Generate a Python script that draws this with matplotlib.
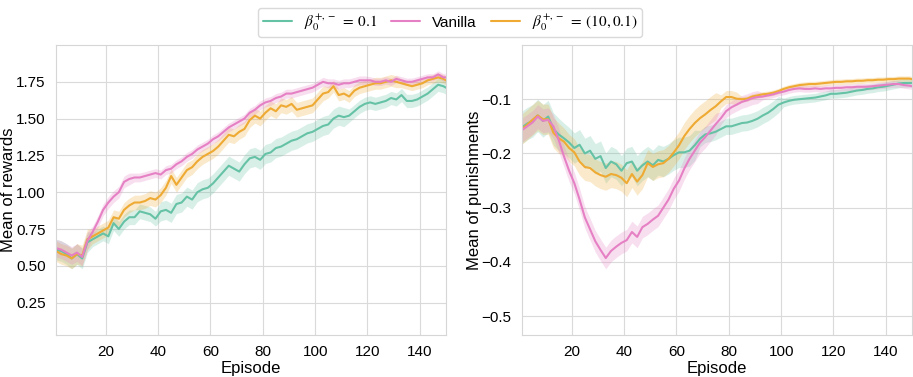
import numpy as np
import matplotlib
matplotlib.use('Agg')
import matplotlib.pyplot as plt
import seaborn as sns

# episodes sampled every 2 steps (plus last one)
episodes = list(range(1, 150, 2)) + [150]

# ---- Mean of rewards (left panel) ----
reward_vanilla = [0.62, 0.61, 0.59, 0.57, 0.59, 0.56, 0.67, 0.73, 0.80, 0.88,
                  0.93, 0.97, 1.00, 1.07, 1.09, 1.10, 1.10, 1.11, 1.12, 1.13,
                  1.12, 1.15, 1.16, 1.19, 1.21, 1.24, 1.26, 1.29, 1.31, 1.33,
                  1.36, 1.38, 1.41, 1.44, 1.46, 1.48, 1.50, 1.54, 1.56, 1.59,
                  1.61, 1.62, 1.64, 1.65, 1.67, 1.67, 1.68, 1.69, 1.70, 1.71,
                  1.73, 1.75, 1.74, 1.74, 1.73, 1.74, 1.74, 1.75, 1.76, 1.76,
                  1.76, 1.75, 1.75, 1.76, 1.75, 1.77, 1.76, 1.75, 1.75, 1.76,
                  1.77, 1.78, 1.78, 1.80, 1.78, 1.78]
reward_b10 = [0.60, 0.58, 0.57, 0.55, 0.58, 0.57, 0.68, 0.70, 0.72, 0.74,
              0.76, 0.83, 0.82, 0.88, 0.91, 0.93, 0.93, 0.94, 0.96, 0.95,
              0.98, 1.03, 1.11, 1.05, 1.10, 1.15, 1.17, 1.21, 1.24, 1.26,
              1.28, 1.31, 1.35, 1.39, 1.38, 1.41, 1.43, 1.49, 1.52, 1.50,
              1.54, 1.57, 1.55, 1.59, 1.58, 1.60, 1.56, 1.57, 1.58, 1.59,
              1.63, 1.67, 1.68, 1.72, 1.66, 1.67, 1.65, 1.69, 1.71, 1.72,
              1.73, 1.74, 1.74, 1.75, 1.76, 1.75, 1.74, 1.73, 1.72, 1.73,
              1.74, 1.76, 1.77, 1.78, 1.77, 1.76]
reward_b01 = [0.61, 0.60, 0.58, 0.55, 0.58, 0.55, 0.66, 0.68, 0.70, 0.72,
              0.70, 0.79, 0.75, 0.80, 0.83, 0.83, 0.87, 0.86, 0.85, 0.82,
              0.87, 0.88, 0.86, 0.92, 0.93, 0.97, 0.95, 1.00, 1.02, 1.03,
              1.06, 1.10, 1.14, 1.18, 1.16, 1.14, 1.19, 1.23, 1.24, 1.22,
              1.26, 1.27, 1.30, 1.31, 1.33, 1.35, 1.36, 1.38, 1.40, 1.41,
              1.43, 1.45, 1.46, 1.50, 1.52, 1.51, 1.52, 1.55, 1.58, 1.60,
              1.61, 1.60, 1.61, 1.62, 1.64, 1.63, 1.66, 1.62, 1.62, 1.63,
              1.65, 1.67, 1.70, 1.73, 1.72, 1.71]
reward_vanilla_sd = [0.06] * 7 + [0.04] * 8 + [0.03] * 45 + [0.025] * 16
reward_b10_sd = [0.07] * 7 + [0.05] * 45 + [0.04] * 14 + [0.03] * 10
reward_b01_sd = [0.07] * 7 + [0.05] * 13 + [0.065] * 36 + [0.045] * 20

# ---- Mean of punishments (right panel) ----
pun_vanilla = [-0.157, -0.150, -0.143, -0.132, -0.140, -0.138, -0.150, -0.175, -0.205, -0.232,
               -0.255, -0.285, -0.318, -0.340, -0.362, -0.378, -0.393, -0.380, -0.372, -0.365,
               -0.360, -0.345, -0.354, -0.336, -0.330, -0.322, -0.315, -0.300, -0.285, -0.265,
               -0.250, -0.228, -0.210, -0.195, -0.180, -0.170, -0.158, -0.146, -0.135, -0.122,
               -0.115, -0.110, -0.105, -0.102, -0.098, -0.096, -0.095, -0.093, -0.091, -0.088,
               -0.086, -0.083, -0.081, -0.080, -0.081, -0.081, -0.080, -0.081, -0.080, -0.080,
               -0.079, -0.079, -0.078, -0.078, -0.077, -0.077, -0.077, -0.076, -0.075, -0.074,
               -0.073, -0.072, -0.072, -0.074, -0.075, -0.076]
pun_b10 = [-0.155, -0.147, -0.138, -0.130, -0.137, -0.137, -0.162, -0.172, -0.178, -0.190,
           -0.198, -0.215, -0.225, -0.227, -0.235, -0.240, -0.243, -0.238, -0.240, -0.245,
           -0.255, -0.238, -0.252, -0.240, -0.218, -0.225, -0.220, -0.218, -0.210, -0.198,
           -0.185, -0.168, -0.155, -0.144, -0.135, -0.128, -0.120, -0.113, -0.104, -0.096,
           -0.096, -0.099, -0.100, -0.099, -0.095, -0.093, -0.091, -0.090, -0.088, -0.085,
           -0.081, -0.078, -0.076, -0.074, -0.073, -0.072, -0.072, -0.071, -0.070, -0.069,
           -0.068, -0.068, -0.067, -0.067, -0.066, -0.066, -0.065, -0.065, -0.064, -0.064,
           -0.063, -0.063, -0.062, -0.062, -0.062, -0.063]
pun_b01 = [-0.152, -0.145, -0.140, -0.130, -0.140, -0.132, -0.155, -0.165, -0.172, -0.180,
           -0.190, -0.184, -0.200, -0.195, -0.210, -0.205, -0.227, -0.215, -0.220, -0.232,
           -0.218, -0.215, -0.232, -0.222, -0.215, -0.222, -0.212, -0.215, -0.210, -0.203,
           -0.198, -0.198, -0.195, -0.185, -0.173, -0.165, -0.163, -0.160, -0.155, -0.150,
           -0.150, -0.147, -0.144, -0.143, -0.140, -0.136, -0.130, -0.125, -0.118, -0.110,
           -0.106, -0.103, -0.101, -0.100, -0.099, -0.098, -0.097, -0.095, -0.093, -0.090,
           -0.090, -0.089, -0.088, -0.086, -0.084, -0.083, -0.081, -0.080, -0.078, -0.077,
           -0.075, -0.073, -0.071, -0.070, -0.070, -0.070]
pun_vanilla_sd = [0.022] * 8 + [0.02] * 30 + [0.012] * 8 + [0.006] * 30
pun_b10_sd = [0.028] * 8 + [0.025] * 30 + [0.012] * 4 + [0.005] * 34
pun_b01_sd = [0.03] * 8 + [0.028] * 26 + [0.015] * 16 + [0.008] * 26

colors = {'b01': '#66c2a5', 'vanilla': '#e680c4', 'b10': '#eeaa33'}
labels = {'b01': r'$\beta_0^{+,-}\;=\;0.1$', 'vanilla': 'Vanilla',
          'b10': r'$\beta_0^{+,-}\;=\;(10,0.1)$'}

sns.set_style('whitegrid')
plt.rcParams['font.family'] = ['Liberation Sans', 'DejaVu Sans']
plt.rcParams['mathtext.fontset'] = 'stix'
plt.rcParams['axes.edgecolor'] = '#d6d6d6'
plt.rcParams['grid.color'] = '#dadada'
plt.rcParams['text.color'] = 'black'
plt.rcParams['axes.labelcolor'] = 'black'
plt.rcParams['xtick.color'] = 'black'
plt.rcParams['ytick.color'] = 'black'

fig = plt.figure(figsize=(9.13, 3.77), dpi=100)
ax1 = fig.add_axes([56 / 913, 42 / 377, 390 / 913, 290 / 377])
ax2 = fig.add_axes([522 / 913, 42 / 377, 390 / 913, 290 / 377])

x = np.array(episodes)


def draw(ax, series):
    handles = {}
    for key, mean, sd in series:
        mean = np.array(mean)
        sd = np.array(sd)
        ax.fill_between(x, mean - sd, mean + sd, color=colors[key], alpha=0.25, lw=0)
        h, = ax.plot(x, mean, color=colors[key], lw=1.5, label=labels[key])
        handles[key] = h
    return handles


h = draw(ax1, [('b01', reward_b01, reward_b01_sd),
               ('b10', reward_b10, reward_b10_sd),
               ('vanilla', reward_vanilla, reward_vanilla_sd)])
draw(ax2, [('b01', pun_b01, pun_b01_sd),
           ('b10', pun_b10, pun_b10_sd),
           ('vanilla', pun_vanilla, pun_vanilla_sd)])

ax1.set_xlim(1, 150)
ax1.set_ylim(0.03, 2.0)
ax1.set_yticks([0.25, 0.5, 0.75, 1.0, 1.25, 1.5, 1.75])
ax1.set_ylabel('Mean of rewards', fontsize=12)
ax1.yaxis.set_label_coords(-0.102, 0.5)

ax2.set_xlim(1, 150)
ax2.set_ylim(-0.535, 0.0)
ax2.set_yticks([-0.5, -0.4, -0.3, -0.2, -0.1])
ax2.set_ylabel('Mean of punishments', fontsize=12)
ax2.yaxis.set_label_coords(-0.102, 0.5)

for ax in (ax1, ax2):
    ax.set_xticks([20, 40, 60, 80, 100, 120, 140])
    ax.set_xlabel('Episode', fontsize=12, labelpad=1)
    ax.tick_params(labelsize=11, pad=4)

fig.legend([h['b01'], h['vanilla'], h['b10']],
           [labels['b01'], labels['vanilla'], labels['b10']],
           loc='upper center', bbox_to_anchor=(0.493, 1.0), ncol=3,
           fontsize=11, frameon=True, edgecolor='#d0d0d0',
           handlelength=1.9, columnspacing=0.9, borderpad=0.3)

fig.savefig('out.png', dpi=100)
